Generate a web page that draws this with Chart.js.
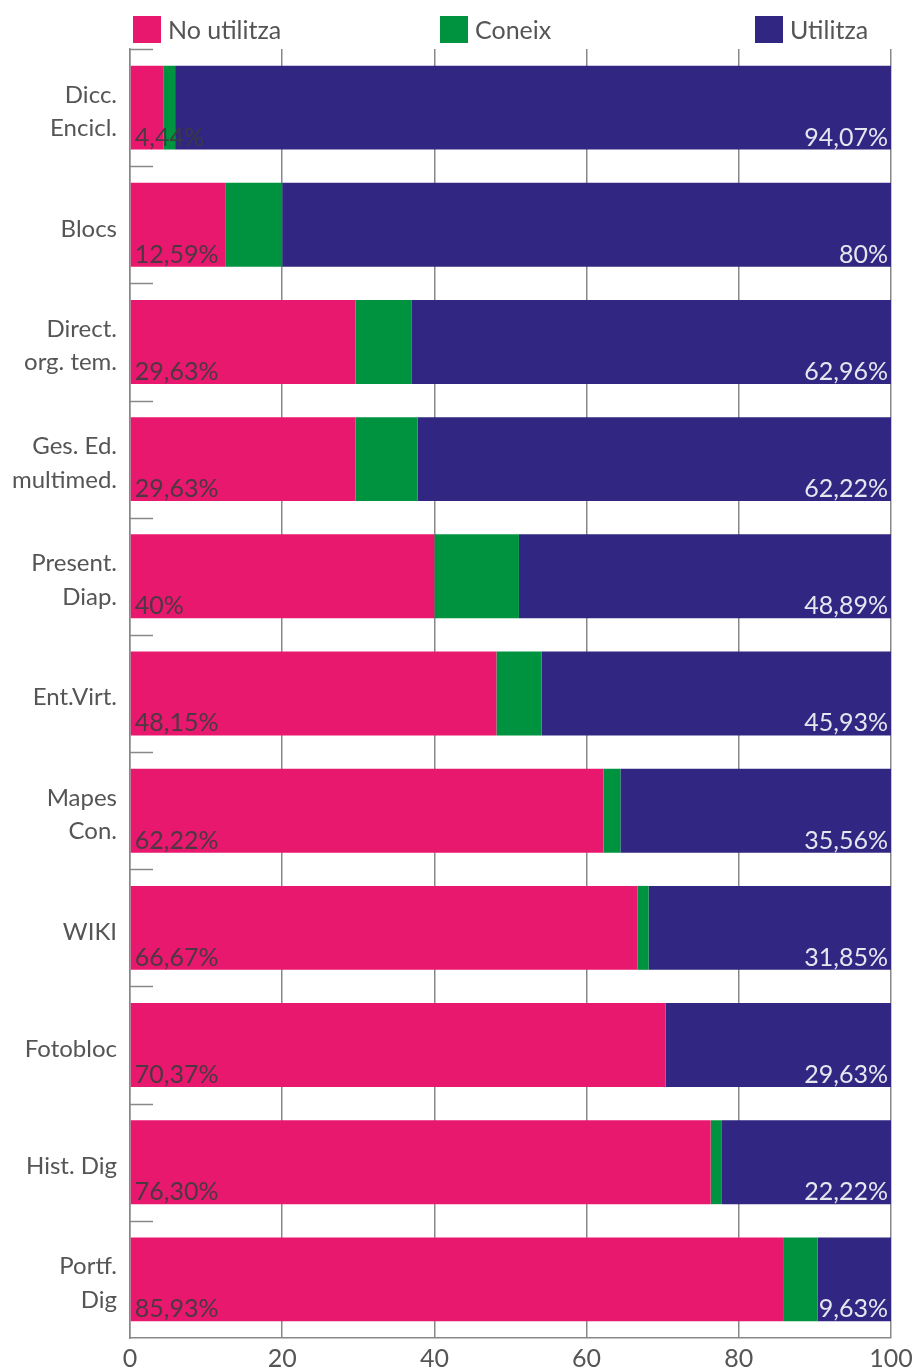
<!DOCTYPE html>
<html><head><meta charset="utf-8">
<script src="https://cdn.jsdelivr.net/npm/chart.js@4.4.0/dist/chart.umd.min.js"></script>
<style>
html,body{margin:0;padding:0;background:#fff;}
#wrap{position:relative;width:913px;height:1371px;}
canvas{position:absolute;left:0;top:0;}
.leg{position:absolute;top:15px;display:flex;align-items:center;font-family:Lato,sans-serif;font-size:25px;color:#555;line-height:28px;}
.leg .box{width:28px;height:27px;margin-right:7px;display:inline-block;}
</style></head><body>
<div id="wrap"><canvas id="c" width="913" height="1371"></canvas><div id="legend"></div></div>
<script>
const categories = [["Dicc.","Encicl."],"Blocs",["Direct.","org. tem."],["Ges. Ed.","multimed."],["Present.","Diap."],"Ent.Virt.",["Mapes","Con."],"WIKI","Fotobloc","Hist. Dig",["Portf.","Dig"]];
const seriesNames = ["No utilitza","Coneix","Utilitza"];
const noUtilitza = [4.44,12.59,29.63,29.63,40,48.15,62.22,66.67,70.37,76.30,85.93];
const coneix = [1.49,7.41,7.41,8.15,11.11,5.92,2.22,1.48,0,1.48,4.44];
const utilitza = [94.07,80,62.96,62.22,48.89,45.93,35.56,31.85,29.63,22.22,9.63];
const xTicks = [0,20,40,60,80,100];

const colors = ["#E8186F","#00933F","#312682"];
const legendLeft = [133,440,755];

function fmt(v){ return (Number.isInteger(v) ? String(v) : v.toFixed(2).replace('.',',')) + '%'; }

const leg = document.getElementById('legend');
seriesNames.forEach((n,i)=>{
  const d = document.createElement('div');
  d.className='leg'; d.style.left = legendLeft[i]+'px';
  d.innerHTML = '<span class="box" style="background:'+colors[i]+'"></span><span>'+n+'</span>';
  leg.appendChild(d);
});

const innerTicks = {
  id:'innerTicks',
  afterDraw(chart){
    const y = chart.scales.y, ctx = chart.ctx, a = chart.chartArea;
    const n = categories.length, pitch = (y.bottom - y.top)/n;
    ctx.save(); ctx.strokeStyle='#888'; ctx.lineWidth=1.5;
    for(let i=0;i<n;i++){
      const py = Math.round(y.getPixelForValue(i) - pitch/2)+0.5;
      ctx.beginPath(); ctx.moveTo(a.left, py); ctx.lineTo(a.left+23, py); ctx.stroke();
    }
    ctx.restore();
  }
};
const valueLabels = {
  id:'valueLabels',
  afterDatasetsDraw(chart){
    const ctx = chart.ctx;
    const m0 = chart.getDatasetMeta(0), m2 = chart.getDatasetMeta(2);
    ctx.save();
    ctx.font = '25px Lato';
    ctx.textBaseline = 'alphabetic';
    m0.data.forEach((bar,i)=>{
      const bottom = bar.y + bar.height/2;
      ctx.textAlign='left'; ctx.fillStyle='rgba(60,60,60,0.9)';
      ctx.fillText(fmt(noUtilitza[i]), bar.base+4, bottom-4);
      const b2 = m2.data[i];
      ctx.textAlign='right'; ctx.fillStyle='#e6e6ef';
      ctx.fillText(fmt(utilitza[i]), b2.x-3, bottom-4);
    });
    ctx.restore();
  }
};

new Chart(document.getElementById('c'), {
  type:'bar',
  data:{
    labels:categories,
    datasets:[
      {label:seriesNames[0], data:noUtilitza, backgroundColor:colors[0]},
      {label:seriesNames[1], data:coneix, backgroundColor:colors[1]},
      {label:seriesNames[2], data:utilitza, backgroundColor:colors[2]}
    ]
  },
  options:{
    indexAxis:'y',
    responsive:false,
    animation:false,
    datasets:{bar:{barPercentage:0.716, categoryPercentage:1}},
    layout:{padding:{top:49,right:22,left:0,bottom:0}},
    plugins:{legend:{display:false}, tooltip:{enabled:false}},
    scales:{
      x:{
        stacked:true, min:0, max:100,
        afterBuildTicks(s){ s.ticks = xTicks.map(v=>({value:v})); },
        afterFit(s){ s.height = 33; s.paddingLeft = 0; s.paddingRight = 0; },
        grid:{color:'#888', lineWidth:1.5, drawTicks:false},
        border:{display:true, color:'#888', width:1.5},
        ticks:{font:{family:'Lato', size:25}, color:'#555', padding:6, maxRotation:0}
      },
      y:{
        stacked:true,
        afterFit(s){ s.width = 130; s.paddingTop = 0; s.paddingBottom = 0; },
        grid:{drawOnChartArea:false, drawTicks:false},
        border:{display:true, color:'#888', width:1.5},
        ticks:{font:{family:'Lato', size:24, lineHeight:1.4}, color:'#555', padding:13, labelOffset:4}
      }
    }
  },
  plugins:[innerTicks, valueLabels]
});
</script>
</body></html>
